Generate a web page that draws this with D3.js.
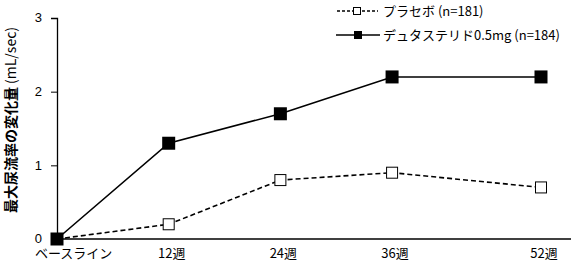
<!DOCTYPE html>
<html>
  <head>
    <meta charset="utf-8">
    <title>最大尿流率の変化量</title>
    <script src="https://cdn.jsdelivr.net/npm/d3@7"></script>
    <style>
      body { margin: 0; background: #fff; }
      svg { display: block; font-family: "Noto Sans CJK JP", "Noto Sans", sans-serif; }
      .tick text { fill: #000; }
      .domain, .tick line { stroke: #000; }
    </style>
  </head>
  <body>
    <svg id="chart" width="571" height="262"></svg>
    <script>
      // data
      weeks = [0, 12, 24, 36, 52];
      weekLabels = ["ベースライン", "12週", "24週", "36週", "52週"];
      placebo = [0, 0.2, 0.8, 0.9, 0.7];
      dutasteride = [0, 1.3, 1.7, 2.2, 2.2];
      yTicks = [0, 1, 2, 3];
      seriesNames = ["プラセボ (n=181)", "デュタステリド0.5mg (n=184)"];

      svg = d3.select("#chart");

      x = d3.scaleLinear().domain([0, 52]).range([57, 541]);
      y = d3.scaleLinear().domain([0, 3]).range([239, 18]);

      // y axis
      svg.append("g")
        .attr("transform", "translate(57,0)")
        .call(d3.axisLeft(y).tickValues(yTicks).tickSize(6).tickPadding(9).tickFormat(d3.format("d")))
        .call(function(g) {
          g.select(".domain").attr("stroke-width", 1.3);
          g.selectAll("text").attr("font-size", 13).attr("dy", "0.3em");
        });

      // x axis
      xAxis = svg.append("g")
        .attr("transform", "translate(0,239)");
      xAxis.append("line")
        .attr("x1", 57).attr("x2", 571)
        .attr("stroke", "#000").attr("stroke-width", 1.6);
      xAxis.selectAll("text")
        .data(weeks)
        .enter().append("text")
          .attr("x", function(d) { return d == 0 ? 35 : x(d) + 3; })
          .attr("y", 19)
          .attr("text-anchor", function(d) { return d == 0 ? "start" : "middle"; })
          .attr("font-size", 13)
          .text(function(d, i) { return weekLabels[i]; });

      // y title
      yTitle = svg.append("text")
        .attr("transform", "translate(16,120) rotate(-90)")
        .attr("text-anchor", "middle")
        .attr("font-size", 14);
      yTitle.append("tspan")
        .attr("font-weight", "bold")
        .text("最大尿流率の変化量");
      yTitle.append("tspan")
        .text(" (mL/sec)");

      line = d3.line()
        .x(function(d, i) { return x(weeks[i]); })
        .y(function(d) { return y(d); });

      // placebo
      svg.append("path")
        .datum(placebo)
        .attr("d", line)
        .attr("fill", "none")
        .attr("stroke", "#000")
        .attr("stroke-width", 1.6)
        .attr("stroke-dasharray", "5,3");

      // dutasteride
      svg.append("path")
        .datum(dutasteride)
        .attr("d", line)
        .attr("fill", "none")
        .attr("stroke", "#000")
        .attr("stroke-width", 1.6);

      svg.selectAll(".placeboPt")
        .data(placebo)
        .enter().append("rect")
          .attr("x", function(d, i) { return x(weeks[i]) - 5.5; })
          .attr("y", function(d) { return y(d) - 5.5; })
          .attr("width", 11).attr("height", 11)
          .attr("fill", "#fff").attr("stroke", "#000").attr("stroke-width", 1);

      svg.selectAll(".dutaPt")
        .data(dutasteride)
        .enter().append("rect")
          .attr("x", function(d, i) { return x(weeks[i]) - 6.5; })
          .attr("y", function(d) { return y(d) - 6.5; })
          .attr("width", 13).attr("height", 13)
          .attr("fill", "#000");

      // legend
      legend = svg.append("g");
      legendY = [11, 35];
      legend.append("line")
        .attr("x1", 337).attr("x2", 378).attr("y1", legendY[0]).attr("y2", legendY[0])
        .attr("stroke", "#000").attr("stroke-width", 1.3).attr("stroke-dasharray", "3,2");
      legend.append("rect")
        .attr("x", 353.5).attr("y", legendY[0] - 3.5).attr("width", 7).attr("height", 7)
        .attr("fill", "#fff").attr("stroke", "#000");
      legend.append("line")
        .attr("x1", 336).attr("x2", 380).attr("y1", legendY[1]).attr("y2", legendY[1])
        .attr("stroke", "#000").attr("stroke-width", 1.6);
      legend.append("rect")
        .attr("x", 354).attr("y", legendY[1] - 4).attr("width", 8).attr("height", 8)
        .attr("fill", "#000");
      legend.selectAll("text")
        .data(seriesNames)
        .enter().append("text")
          .attr("x", 383)
          .attr("y", function(d, i) { return legendY[i] + 5; })
          .attr("font-size", 13)
          .text(function(d) { return d; });
    </script>
  </body>
</html>
